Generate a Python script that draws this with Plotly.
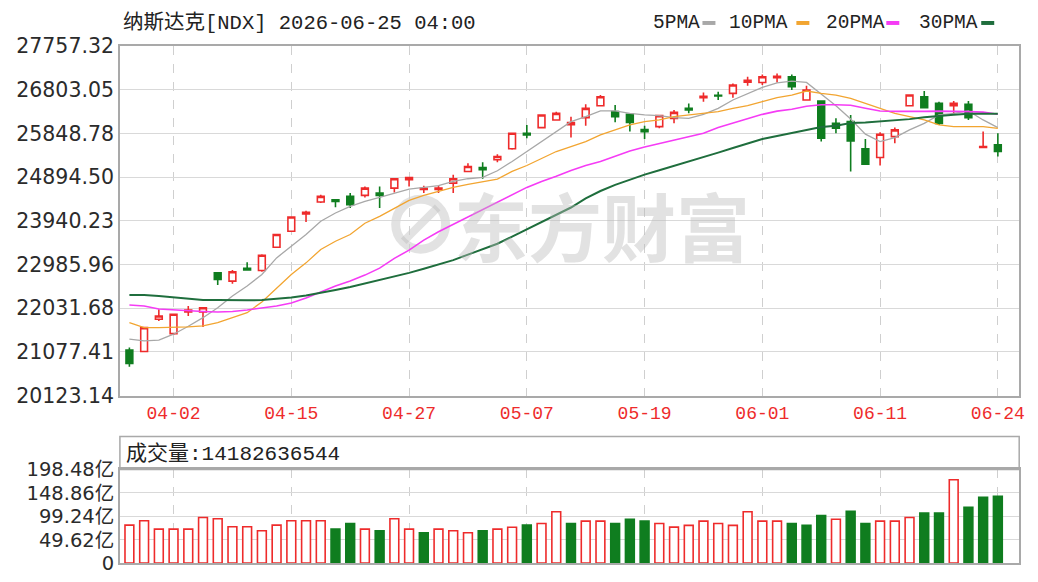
import plotly.graph_objects as go

# ---------------- data ----------------
dates = ["2026-03-30", "2026-03-31", "2026-04-01", "2026-04-02", "2026-04-06", "2026-04-07",
         "2026-04-08", "2026-04-09", "2026-04-10", "2026-04-13", "2026-04-14", "2026-04-15",
         "2026-04-16", "2026-04-17", "2026-04-20", "2026-04-21", "2026-04-22", "2026-04-23",
         "2026-04-24", "2026-04-27", "2026-04-28", "2026-04-29", "2026-04-30", "2026-05-01",
         "2026-05-04", "2026-05-05", "2026-05-06", "2026-05-07", "2026-05-08", "2026-05-11",
         "2026-05-12", "2026-05-13", "2026-05-14", "2026-05-15", "2026-05-18", "2026-05-19",
         "2026-05-20", "2026-05-21", "2026-05-22", "2026-05-26", "2026-05-27", "2026-05-28",
         "2026-05-29", "2026-06-01", "2026-06-02", "2026-06-03", "2026-06-04", "2026-06-05",
         "2026-06-08", "2026-06-09", "2026-06-10", "2026-06-11", "2026-06-12", "2026-06-15",
         "2026-06-16", "2026-06-17", "2026-06-18", "2026-06-22", "2026-06-23", "2026-06-24"]

opens = [21117, 21087, 21791, 21478, 21950, 21950, 22805, 22624, 22901, 22857,
         23364, 23712, 24092, 24349, 24401, 24473, 24495, 24545, 24654, 24836,
         24625, 24625, 24762, 25017, 25104, 25271, 25511, 25850, 25974, 26141,
         26039, 26191, 26452, 26322, 26263, 25930, 25996, 26176, 26394, 26626,
         26681, 26720, 26963, 26959, 27061, 27083, 26576, 26555, 26067, 26104,
         25511, 25321, 25778, 26452, 26648, 26502, 26452, 26481, 25539, 25598]
highs = [21174, 21624, 22009, 21907, 22081, 22059, 22820, 22864, 23038, 23212,
         23647, 24038, 24162, 24510, 24408, 24545, 24691, 24691, 24865, 24892,
         24706, 24712, 24945, 25197, 25219, 25393, 25865, 26033, 26257, 26322,
         26213, 26481, 26685, 26468, 26278, 26017, 26250, 26359, 26502, 26742,
         26757, 26937, 27083, 27133, 27155, 27133, 26887, 26561, 26176, 26250,
         25728, 25872, 25974, 26692, 26772, 26539, 26555, 26555, 25887, 25850]
lows = [20754, 21080, 21754, 21450, 21863, 21624, 22537, 22566, 22865, 22827,
        23353, 23701, 23914, 24327, 24234, 24219, 24451, 24219, 24560, 24691,
        24545, 24545, 24545, 25006, 24858, 25219, 25489, 25741, 25963, 26137,
        25756, 26017, 26441, 26089, 25887, 25728, 25959, 26067, 26285, 26539,
        26576, 26626, 26887, 26903, 26959, 26794, 26572, 25669, 25850, 25017,
        25169, 25147, 25632, 26446, 26402, 26033, 26250, 26141, 25528, 25343]
closes = [20826, 21609, 21863, 21900, 21994, 22044, 22661, 22827, 22870, 23190,
          23640, 24023, 24125, 24473, 24364, 24293, 24654, 24495, 24858, 24886,
          24647, 24654, 24858, 25126, 25054, 25343, 25850, 25815, 26250, 26285,
          26083, 26394, 26648, 26213, 26089, 25887, 26235, 26307, 26359, 26659,
          26663, 26903, 27007, 27083, 27094, 26866, 26794, 25741, 25959, 25685,
          25176, 25828, 25924, 26685, 26409, 26067, 26502, 26191, 25561, 25452]

ma5 = [21356, 21319, 21335, 21465, 21638, 21826, 22044, 22298, 22516, 22770,
       23131, 23386, 23640, 23929, 24110, 24256, 24364, 24451, 24545, 24632,
       24669, 24706, 24799, 24858, 24886, 25032, 25234, 25452, 25669, 25887,
       26104, 26213, 26337, 26337, 26285, 26250, 26235, 26191, 26176, 26263,
       26394, 26576, 26720, 26850, 26950, 26990, 26960, 26710, 26450, 26160,
       25830, 25669, 25756, 25924, 26067, 26250, 26285, 26337, 26141, 25974]
ma10 = [21717, 21609, 21609, 21609, 21624, 21646, 21717, 21826, 21935, 22170,
        22479, 22770, 23022, 23314, 23494, 23640, 23886, 24038, 24212, 24386,
        24495, 24582, 24669, 24734, 24799, 24850, 25017, 25147, 25300, 25452,
        25561, 25669, 25815, 25924, 26033, 26104, 26141, 26213, 26250, 26285,
        26322, 26394, 26452, 26539, 26626, 26685, 26772, 26720, 26685, 26611,
        26502, 26394, 26285, 26213, 26141, 26033, 25996, 25996, 25996, 25959]
ma20 = [22102, 22081, 22015, 21994, 21972, 21961, 21950, 21961, 21994, 22037,
        22081, 22146, 22255, 22385, 22516, 22624, 22755, 22907, 23120, 23300,
        23520, 23701, 23864, 24016, 24179, 24343, 24501, 24669, 24799, 24910,
        25039, 25147, 25234, 25354, 25463, 25550, 25626, 25713, 25789, 25850,
        25974, 26072, 26170, 26263, 26333, 26376, 26441, 26474, 26474, 26463,
        26398, 26337, 26328, 26322, 26328, 26333, 26333, 26322, 26311, 26267]
ma30 = [22320, 22320, 22298, 22265, 22233, 22211, 22211, 22205, 22205, 22211,
        22233, 22265, 22309, 22363, 22429, 22494, 22570, 22640, 22727, 22803,
        22894, 22990, 23081, 23203, 23320, 23440, 23594, 23755, 23900, 24060,
        24230, 24430, 24590, 24723, 24843, 24947, 25043, 25139, 25234, 25317,
        25428, 25528, 25626, 25724, 25789, 25856, 25930, 25985, 26017, 26072,
        26083, 26104, 26137, 26159, 26202, 26235, 26257, 26278, 26285, 26278]

# volume in 亿 (1e8)
volume_yi = [80.6, 89.7, 72, 72, 72, 96.8, 94, 77, 77, 68.6,
             80.6, 89.7, 89.7, 89.7, 72, 84, 72, 68.6, 94, 72,
             64.4, 72, 68.6, 64.4, 68.6, 72, 76, 80.6, 84, 109,
             84, 89, 89, 84, 93, 89, 84, 76.4, 80, 89,
             84, 80, 109, 89, 89, 84, 80, 101, 93, 110,
             84, 89, 89, 96.8, 106, 106, 176.8, 118.5, 139.6, 141.83]
last_volume = 14182636544

price_ticks = [20123.14, 21077.41, 22031.68, 22985.96, 23940.23,
               24894.50, 25848.78, 26803.05, 27757.32]
price_tick_labels = ["20123.14", "21077.41", "22031.68", "22985.96", "23940.23",
                     "24894.50", "25848.78", "26803.05", "27757.32"]
vol_ticks = [0, 49.62, 99.24, 148.86, 198.48]
vol_tick_labels = ["0", "49.62亿", "99.24亿", "148.86亿", "198.48亿"]
date_tick_idx = [3, 11, 19, 27, 35, 43, 51, 59]

title_text = "纳斯达克[NDX] 2026-06-25 04:00"
ma_names = ["5PMA", "10PMA", "20PMA", "30PMA"]

# ---------------- layout helpers ----------------
W, H = 1038, 582
# calibration of the photographed page (observed: canvas appears in x 0..1033, y 10..570)
SX, SY, OY = 0.995, 0.962, 10.0
X0, X1 = 120, 1020
P_TOP, P_BOT = 44, 395
HDR_TOP, V_TOP, V_BOT = 436, 469, 563

def fx(p):
    return (p / SX) / W

def fy(p):
    return 1 - ((p - OY) / SY) / H

RED = "#ee2b2b"
GREEN = "#0f7d1f"
BORDER = "#a9a9a9"
GRID = "#d9d9d9"
WM = "rgba(185,185,185,0.42)"
ma_colors = ["#a8a8a8", "#f2a531", "#f53cf5", "#1f6e3d"]
ma_widths = [1.3, 1.3, 1.6, 2.0]
MONO = "Liberation Mono, Noto Sans CJK SC, monospace"
SANS = "DejaVu Sans, Noto Sans CJK SC, sans-serif"

fig = go.Figure()

for name, vals, col, wd in zip(ma_names, [ma5, ma10, ma20, ma30], ma_colors, ma_widths):
    fig.add_trace(go.Scatter(x=dates, y=vals, mode="lines", name=name,
                             line=dict(color=col, width=wd), xaxis="x", yaxis="y",
                             showlegend=False, hoverinfo="skip"))

fig.add_trace(go.Candlestick(
    x=dates, open=opens, high=highs, low=lows, close=closes,
    increasing=dict(line=dict(color=RED, width=1.6), fillcolor="white"),
    decreasing=dict(line=dict(color=GREEN, width=1.6), fillcolor=GREEN),
    whiskerwidth=0, showlegend=False, xaxis="x", yaxis="y"))

up_vs_prev = [True] + [closes[i] >= closes[i - 1] for i in range(1, len(closes))]
fig.add_trace(go.Bar(
    x=dates, y=volume_yi, width=0.6,
    marker=dict(color=["white" if u else GREEN for u in up_vs_prev],
                line=dict(color=[RED if u else GREEN for u in up_vs_prev], width=1.6)),
    showlegend=False, xaxis="x2", yaxis="y2"))

xr = [-0.645, 60.45]
fig.update_layout(
    width=W, height=H, margin=dict(l=0, r=0, t=0, b=0),
    paper_bgcolor="white", plot_bgcolor="white", boxgap=0.34, bargap=0.3,
    xaxis=dict(domain=[fx(X0), fx(X1)], anchor="y", type="category", range=xr,
               tickmode="array", tickvals=[dates[i] for i in date_tick_idx],
               ticktext=[dates[i][5:] for i in date_tick_idx],
               tickfont=dict(family=MONO, size=18, color=RED),
               showgrid=True, gridcolor="#cfcfcf", griddash="dash", gridwidth=1,
               showline=True, mirror=True, linecolor=BORDER, linewidth=1.5,
               ticks="", zeroline=False, rangeslider=dict(visible=False)),
    yaxis=dict(domain=[fy(P_BOT), fy(P_TOP)], anchor="x", range=[price_ticks[0], price_ticks[-1]],
               tickmode="array", tickvals=price_ticks, ticktext=price_tick_labels,
               tickfont=dict(family=SANS, size=20.5, color="#2b2b2b"),
               showgrid=True, gridcolor=GRID, gridwidth=1.3,
               showline=True, mirror=True, linecolor=BORDER, linewidth=1.5,
               ticks="", zeroline=False),
    xaxis2=dict(domain=[fx(X0), fx(X1)], anchor="y2", type="category", range=xr,
                matches="x", showticklabels=False,
                tickmode="array", tickvals=[dates[i] for i in date_tick_idx],
                showgrid=True, gridcolor="#cfcfcf", griddash="dash",
                showline=True, mirror=True, linecolor=BORDER, linewidth=1.5,
                ticks="", zeroline=False),
    yaxis2=dict(domain=[fy(V_BOT), fy(V_TOP)], anchor="x2", range=[0, vol_ticks[-1]],
                tickmode="array", tickvals=vol_ticks, ticktext=vol_tick_labels,
                tickfont=dict(family=SANS, size=19.5, color="#2b2b2b"),
                showgrid=True, gridcolor=GRID, gridwidth=1.3,
                showline=True, mirror=True, linecolor=BORDER, linewidth=1.5,
                ticks="", zeroline=False),
)

shapes = [
    dict(type="rect", xref="paper", yref="paper", x0=fx(X0), x1=fx(X1),
         y0=fy(V_TOP), y1=fy(HDR_TOP), line=dict(color=BORDER, width=1.5)),
    # watermark logo (ring with a slash), drawn under the traces
    dict(type="circle", xref="paper", yref="paper", layer="below",
         x0=fx(396), x1=fx(446), y0=fy(248), y1=fy(198),
         line=dict(color=WM, width=9)),
    dict(type="line", xref="paper", yref="paper", layer="below",
         x0=fx(404), x1=fx(438), y0=fy(240), y1=fy(206),
         line=dict(color=WM, width=8)),
]
annotations = [
    dict(text=title_text, xref="paper", yref="paper", x=fx(121), y=fy(21),
         xanchor="left", yanchor="middle", showarrow=False,
         font=dict(family=MONO, size=20.5, color="#222")),
    dict(text="成交量:" + str(last_volume), xref="paper", yref="paper",
         x=fx(124), y=fy(453), xanchor="left", yanchor="middle", showarrow=False,
         font=dict(family=MONO, size=21, color="#222")),
    dict(text="东方财富", xref="paper", yref="paper", x=fx(602), y=fy(222),
         xanchor="center", yanchor="middle", showarrow=False,
         font=dict(family="Noto Sans CJK SC", size=74, color=WM, weight="bold")),
]
leg_text_x = [652, 728, 825, 918]
leg_dash_x = [703, 797, 887, 982]
for name, col, tx, dx in zip(ma_names, ma_colors, leg_text_x, leg_dash_x):
    annotations.append(dict(text=name, xref="paper", yref="paper", x=fx(tx), y=fy(21),
                            xanchor="left", yanchor="middle", showarrow=False,
                            font=dict(family=MONO, size=19.5, color="#222")))
    shapes.append(dict(type="rect", xref="paper", yref="paper", x0=fx(dx), x1=fx(dx + 13),
                       y0=fy(23), y1=fy(19), fillcolor=col, line=dict(width=0)))

fig.update_layout(shapes=shapes, annotations=annotations)
fig.write_html("out.html")
